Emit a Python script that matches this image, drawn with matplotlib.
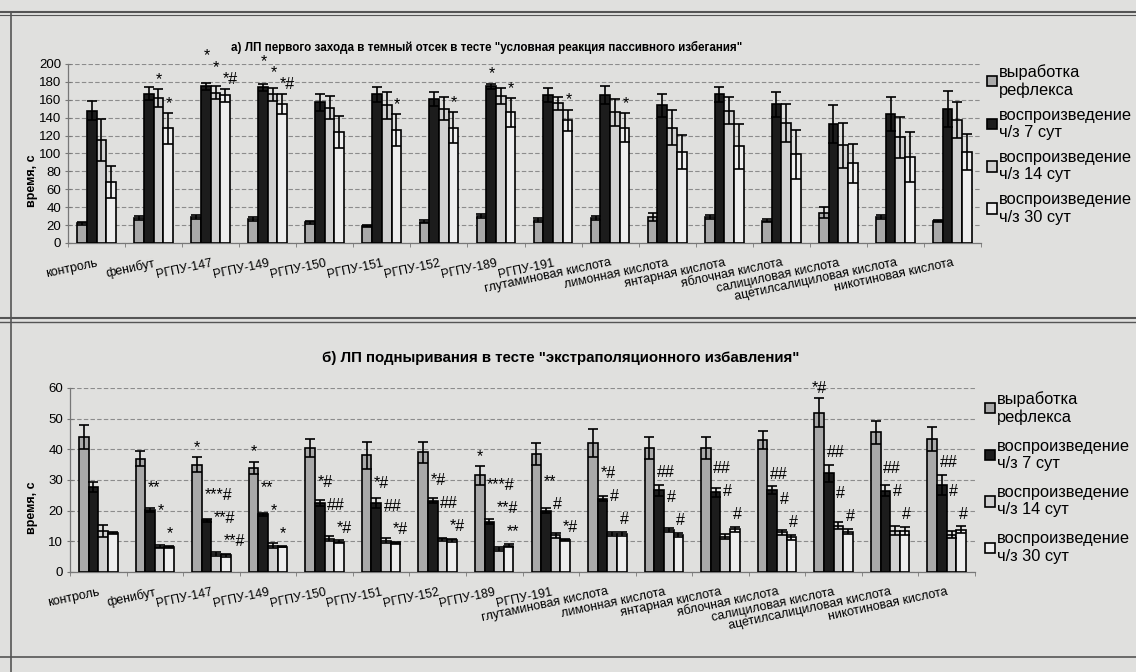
import numpy as np
import matplotlib.pyplot as plt
from matplotlib.patches import Patch
from matplotlib.lines import Line2D

plt.rcParams['font.family'] = ['Liberation Sans', 'DejaVu Sans']

#------------------data-------------------
groups = ['контроль', 'фенибут', 'РГПУ-147', 'РГПУ-149', 'РГПУ-150', 'РГПУ-151',
          'РГПУ-152', 'РГПУ-189', 'РГПУ-191', 'глутаминовая кислота',
          'лимонная кислота', 'янтарная кислота', 'яблочная кислота',
          'салициловая кислота', 'ацетилсалициловая кислота', 'никотиновая кислота']
series = ['выработка\nрефлекса', 'воспроизведение\nч/з 7 сут',
          'воспроизведение\nч/з 14 сут', 'воспроизведение\nч/з 30 сут']

# а) latency of first entry into dark compartment, s
a_train = [22, 28, 29, 27, 23, 19, 24, 30, 26, 28, 29, 29, 25, 34, 29, 25]
a_train_err = [2, 2, 2, 2, 2, 1, 2, 2, 2, 2, 4, 2, 2, 6, 2, 1]
a_7 = [148, 167, 175, 174, 157, 166, 161, 175, 165, 165, 154, 166, 155, 133, 144, 150]
a_7_err = [11, 7, 4, 4, 10, 8, 8, 3, 8, 10, 13, 8, 14, 21, 19, 20]
a_14 = [115, 162, 168, 166, 151, 154, 150, 164, 156, 146, 129, 148, 134, 109, 118, 137]
a_14_err = [23, 10, 7, 7, 13, 15, 13, 9, 7, 15, 20, 15, 21, 25, 23, 20]
a_30 = [68, 128, 165, 155, 124, 126, 129, 146, 137, 129, 102, 108, 99, 89, 96, 102]
a_30_err = [18, 17, 7, 11, 18, 18, 17, 16, 12, 16, 19, 25, 27, 22, 28, 20]
a_sig = [['', '', '', ''], ['', '', '*', '*'], ['', '*', '*', '*#'], ['', '*', '*', '*#'],
         ['', '', '', ''], ['', '', '', '*'], ['', '', '', '*'], ['', '*', '', '*'],
         ['', '', '', '*'], ['', '', '', '*'], ['', '', '', ''], ['', '', '', ''],
         ['', '', '', ''], ['', '', '', ''], ['', '', '', ''], ['', '', '', '']]

# б) latency of diving under, s
b_train = [44, 37, 35, 34, 40.5, 38, 39, 31.5, 38.5, 42, 40.5, 40.5, 43, 52, 45.5, 43.5]
b_train_err = [3.8, 2.5, 2.5, 2, 3, 4.4, 3.5, 3, 3.5, 4.5, 3.5, 3.5, 3, 4.7, 3.8, 3.9]
b_7 = [27.7, 20.3, 16.8, 18.8, 22.6, 22.5, 23.2, 16.4, 20, 23.9, 26.6, 26, 26.6, 32.2, 26.5, 28.4]
b_7_err = [1.5, 0.6, 0.6, 0.4, 1, 1.6, 0.8, 0.9, 0.9, 0.9, 1.8, 1.4, 1.3, 2.7, 1.8, 3.2]
b_14 = [13.3, 8.3, 5.8, 8.6, 10.9, 10.2, 10.6, 7.5, 12, 12.3, 13.7, 11.5, 12.9, 15.1, 13.5, 12.2]
b_14_err = [2, 0.6, 0.6, 0.8, 0.8, 0.8, 0.6, 0.6, 0.8, 0.7, 0.8, 0.8, 0.8, 1.1, 1.4, 1.1]
b_30 = [12.7, 8.2, 5.4, 8.3, 9.8, 9.5, 10.3, 8.6, 10.3, 12.3, 12, 14, 11.3, 13.2, 13.3, 13.8]
b_30_err = [0.4, 0.4, 0.5, 0.3, 0.5, 0.4, 0.5, 0.6, 0.3, 0.7, 0.7, 0.8, 0.8, 0.9, 1.3, 1.1]
b_sig = [['', '', '', ''], ['', '**', '*', '*'], ['*', '***#', '**#', '**#'], ['*', '**', '*', '*'],
         ['', '*#', '##', '*#'], ['', '*#', '##', '*#'], ['', '*#', '##', '*#'],
         ['*', '***#', '**#', '**'], ['', '**', '#', '*#'], ['', '*#', '#', '#'],
         ['', '##', '#', '#'], ['', '##', '#', '#'], ['', '##', '#', '#'],
         ['*#', '##', '#', '#'], ['', '##', '#', '#'], ['', '##', '#', '#']]

#------------------style-------------------
colors = ['#a9a9a9', '#1c1c1c', '#d0d0d0', '#eeeeee']
paper = '#e0e0de'
W, H = 1136, 672
bw = 0.17


def box(left, right, y0, ytop):
    return [left / W, 1 - y0 / H, (right - left) / W, (y0 - ytop) / H]


def draw_panel(ax, vals, errs, sigs, ymax, ystep, pad, step):
    x = np.arange(len(groups))
    for j in range(4):
        xs = x + (j - 1.5) * bw
        ax.bar(xs, vals[j], bw, color=colors[j], edgecolor='black', linewidth=1.2, zorder=3)
        ax.errorbar(xs, vals[j], yerr=errs[j], fmt='none', ecolor='black',
                    elinewidth=1.2, capsize=3.5, capthick=1.2, zorder=4)
    # significance marks, stepped down from left to right like in the original
    for i in range(len(groups)):
        if sigs[i][0]:
            ax.text(x[i] - 1.5 * bw, vals[0][i] + errs[0][i] + pad * 0.8, sigs[i][0],
                    ha='center', va='center', fontsize=11.5, clip_on=False, zorder=5)
        prev = None
        for j in (3, 2, 1):
            s = sigs[i][j]
            if not s:
                continue
            y = vals[j][i] + errs[j][i] + pad
            if prev is not None:
                y = max(y, prev + step)
            prev = y
            ax.text(x[i] + (j - 1.5) * bw - 0.04, y, s, ha='left', va='center',
                    fontsize=11.5, clip_on=False, zorder=5)
    ax.set_xlim(-0.5, len(groups) - 0.5)
    ax.set_ylim(0, ymax)
    ax.set_yticks(np.arange(0, ymax + 1, ystep))
    ax.set_xticks(x)
    ax.set_xticklabels(groups, rotation=12, ha='right', rotation_mode='anchor', fontsize=9)
    ax.set_xticks(np.arange(-0.5, len(groups)), minor=True)
    ax.tick_params(axis='x', which='major', length=0, pad=10)
    ax.tick_params(axis='x', which='minor', length=3, color='#777')
    ax.tick_params(axis='y', length=4, direction='inout', color='#777', labelsize=9.5, pad=3)
    ax.grid(axis='y', color='#8c8c8c', linestyle=(0, (4, 2)), linewidth=0.8, zorder=0)
    ax.set_facecolor('none')
    for s in ('top', 'right'):
        ax.spines[s].set_visible(False)
    for s in ('left', 'bottom'):
        ax.spines[s].set_color('#777')
        ax.spines[s].set_linewidth(0.9)


fig = plt.figure(figsize=(W / 100, H / 100), dpi=100, facecolor=paper)

ax1 = fig.add_axes(box(68, 981, 243, 64))
draw_panel(ax1, [a_train, a_7, a_14, a_30], [a_train_err, a_7_err, a_14_err, a_30_err],
           a_sig, 200, 20, 11, 13)

ax2 = fig.add_axes(box(70, 975, 572, 388))
draw_panel(ax2, [b_train, b_7, b_14, b_30], [b_train_err, b_7_err, b_14_err, b_30_err],
           b_sig, 60, 10, 4, 7.5)

fig.text(487 / W, 1 - 47 / H,
         'а) ЛП первого захода в темный отсек в тесте "условная реакция пассивного избегания"',
         ha='center', va='center', fontsize=8.4, fontweight='bold')
fig.text(561 / W, 1 - 358 / H,
         'б) ЛП подныривания в тесте "экстраполяционного избавления"',
         ha='center', va='center', fontsize=10.8, fontweight='bold')

fig.text(32 / W, 1 - 181 / H, 'время, с', rotation=90, ha='center', va='center',
         fontsize=9, fontweight='bold')
fig.text(32 / W, 1 - 508 / H, 'время, с', rotation=90, ha='center', va='center',
         fontsize=9, fontweight='bold')

handles = [Patch(facecolor=c, edgecolor='black', linewidth=1.2) for c in colors]
fig.legend(handles, series, loc='upper left', bbox_to_anchor=(987 / W, 1 - 64 / H),
           frameon=False, fontsize=11.8, handlelength=0.6, handleheight=0.6,
           handletextpad=0.12, labelspacing=0.6, borderpad=0, borderaxespad=0)
fig.legend(handles, series, loc='upper left', bbox_to_anchor=(985 / W, 1 - 391 / H),
           frameon=False, fontsize=11.8, handlelength=0.6, handleheight=0.6,
           handletextpad=0.12, labelspacing=0.85, borderpad=0, borderaxespad=0)

# page frame lines of the scan
for yy, lw in ((12, 1.5), (15, 0.8), (318, 1.5), (322, 1.0), (657, 1.2)):
    fig.add_artist(Line2D([0, 1], [1 - yy / H] * 2, color='#555', lw=lw))
fig.add_artist(Line2D([11 / W] * 2, [0, 1 - 12 / H], color='#555', lw=1.2))

fig.savefig('out.png', dpi=100, facecolor=paper)
